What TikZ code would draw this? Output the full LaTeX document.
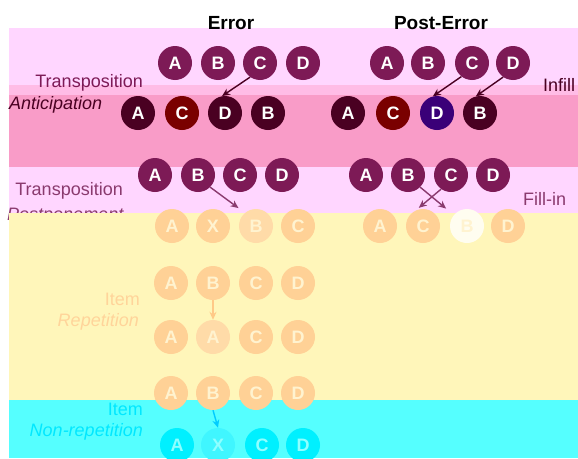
\documentclass[tikz,border=0pt]{standalone}
\usepackage{fontspec}
\setmainfont{Liberation Sans}
\usetikzlibrary{arrows.meta}
\definecolor{bandlight}{HTML}{FFD6FF}
\definecolor{bandmid}{HTML}{FFBCE6}
\definecolor{bandstrong}{HTML}{F99CC8}
\definecolor{bandyellow}{HTML}{FFF6BA}
\definecolor{bandcyan}{HTML}{55FFFF}
\definecolor{plum}{HTML}{7D1A56}
\definecolor{plumdark}{HTML}{4A0022}
\definecolor{redball}{HTML}{7A0000}
\definecolor{indigoball}{HTML}{3A0078}
\definecolor{plumlbl}{HTML}{8A3A6E}
\definecolor{orangeball}{HTML}{FFD196}
\definecolor{orangetext}{HTML}{FFF3D0}
\definecolor{orangepale}{HTML}{FFDBA8}
\definecolor{whiteball}{HTML}{FFFDF0}
\definecolor{cyanball}{HTML}{00F0FF}
\definecolor{cyantext}{HTML}{8FFFFF}
\definecolor{cyanpale}{HTML}{40F6FF}
\definecolor{cyanlbl}{HTML}{00E8FF}
\definecolor{orangelbl}{HTML}{FFD49A}
\tikzset{
  ball/.style={circle, minimum size=34pt, inner sep=0pt, text=white,
    font=\bfseries\fontsize{18}{18}\selectfont},
  pball/.style={ball, fill=plum},
  dball/.style={ball, fill=plumdark},
  oball/.style={ball, fill=orangeball, text=orangetext},
  cball/.style={ball, fill=cyanball, text=cyantext},
  lbl/.style={inner sep=0pt, font=\fontsize{18}{18}\selectfont},
  ilbl/.style={inner sep=0pt, font=\itshape\fontsize{18}{18}\selectfont},
  ttl/.style={inner sep=0pt, font=\bfseries\fontsize{19}{19}\selectfont},
  arr/.style={line width=1.4pt, -{Stealth[length=8pt,width=7pt]}},
}
\begin{document}
\begin{tikzpicture}[x=1pt,y=-1pt]
\useasboundingbox (0,0) rectangle (578,458);
\fill[white] (0,0) rectangle (578,458);
% bands
\fill[bandlight] (9,28) rectangle (578,85);
\fill[bandmid] (9,85) rectangle (578,95);
\fill[bandstrong] (9,95) rectangle (578,167);
\fill[bandlight] (9,167) rectangle (578,213);
\node[ilbl, text=plumlbl, anchor=base west] (lPost) at (7,220) {Postponement};
\fill[bandyellow] (9,213) rectangle (578,400);
\fill[bandcyan] (9,400) rectangle (578,458);
% titles
\node[ttl, anchor=base] (tErr) at (231,29) {Error};
\node[ttl, anchor=base] (tPost) at (441,29) {Post-Error};
% row 1
\node[pball] (eA1) at (175,63) {A};
\node[pball] (eB1) at (218,63) {B};
\node[pball] (eC1) at (260,63) {C};
\node[pball] (eD1) at (303,63) {D};
\node[pball] (pA1) at (387,63) {A};
\node[pball] (pB1) at (428,63) {B};
\node[pball] (pC1) at (472,63) {C};
\node[pball] (pD1) at (513,63) {D};
% row 2
\node[dball] (eA2) at (138,113) {A};
\node[ball, fill=redball] (eC2) at (182,113) {C};
\node[dball] (eD2) at (225,113) {D};
\node[dball] (eB2) at (268,113) {B};
\node[dball] (pA2) at (348,113) {A};
\node[ball, fill=redball] (pC2) at (393,113) {C};
\node[ball, fill=indigoball] (pD2) at (437,113) {D};
\node[dball] (pB2) at (480,113) {B};
\draw[arr, draw=plumdark] (eC1.235) -- (eD2.100);
\draw[arr, draw=plumdark] (pC1.232) -- (pD2.104);
\draw[arr, draw=plumdark] (pD1.235) -- (pB2.104);
% row 3
\node[pball] (eA3) at (155,175) {A};
\node[pball] (eB3) at (198,175) {B};
\node[pball] (eC3) at (240,175) {C};
\node[pball] (eD3) at (282,175) {D};
\node[pball] (pA3) at (366,175) {A};
\node[pball] (pB3) at (408,175) {B};
\node[pball] (pC3) at (451,175) {C};
\node[pball] (pD3) at (493,175) {D};
% row 4
\node[oball] (eA4) at (172,226) {A};
\node[oball] (eX4) at (213,226) {X};
\node[oball, fill=orangepale] (eB4) at (256,226) {B};
\node[oball] (eC4) at (298,226) {C};
\node[oball] (pA4) at (380,226) {A};
\node[oball] (pC4) at (423,226) {C};
\node[oball, fill=whiteball] (pB4) at (467,226) {B};
\node[oball] (pD4) at (508,226) {D};
\draw[arr, draw=plumlbl, shorten >=8pt] (eB3.315) -- (eB4.130);
\draw[arr, draw=plumlbl, shorten >=10pt] (pB3.315) -- (pB4.140);
\draw[arr, draw=plumlbl, shorten >=4pt] (pC3.235) -- (pC4.115);
% row 5 / 6
\node[oball] (eA5) at (171,283) {A};
\node[oball] (eB5) at (213,283) {B};
\node[oball] (eC5) at (256,283) {C};
\node[oball] (eD5) at (298,283) {D};
\node[oball] (eA6) at (171,337) {A};
\node[oball, fill=orangepale] (eR6) at (213,337) {A};
\node[oball] (eC6) at (256,337) {C};
\node[oball] (eD6) at (298,337) {D};
\draw[arr, draw=orangeball!90!orange] (eB5.south) -- (eR6.north);
% row 7 / 8
\node[oball] (eA7) at (171,393) {A};
\node[oball] (eB7) at (213,393) {B};
\node[oball] (eC7) at (256,393) {C};
\node[oball] (eD7) at (298,393) {D};
\node[cball] (eA8) at (177,445) {A};
\node[cball, fill=cyanpale] (eX8) at (218,445) {X};
\node[cball] (eC8) at (262,445) {C};
\node[cball] (eD8) at (303,445) {D};
\draw[arr, draw=cyanball!85!blue] (eB7.south) -- (eX8.north);
% labels
\node[lbl, text=plum, anchor=base east] (lT1) at (143,87) {Transposition};
\node[ilbl, text=plumdark, anchor=base west] (lAnt) at (9,109) {Anticipation};
\node[lbl, text=plumlbl, anchor=base east] (lT2) at (123,195) {Transposition};
\node[lbl, text=orangelbl, anchor=base east] (lI1) at (140,305) {Item};
\node[ilbl, text=orangelbl, anchor=base east] (lRep) at (139,326) {Repetition};
\node[lbl, text=cyanlbl, anchor=base east] (lI2) at (143,415) {Item};
\node[ilbl, text=cyanlbl, anchor=base east] (lNon) at (143,436) {Non-repetition};
\node[lbl, text=plumdark, anchor=base west] (lInf) at (543,91) {Infill};
\node[lbl, text=plumlbl, anchor=base west] (lFill) at (523,205) {Fill-in};
\end{tikzpicture}
\end{document}
